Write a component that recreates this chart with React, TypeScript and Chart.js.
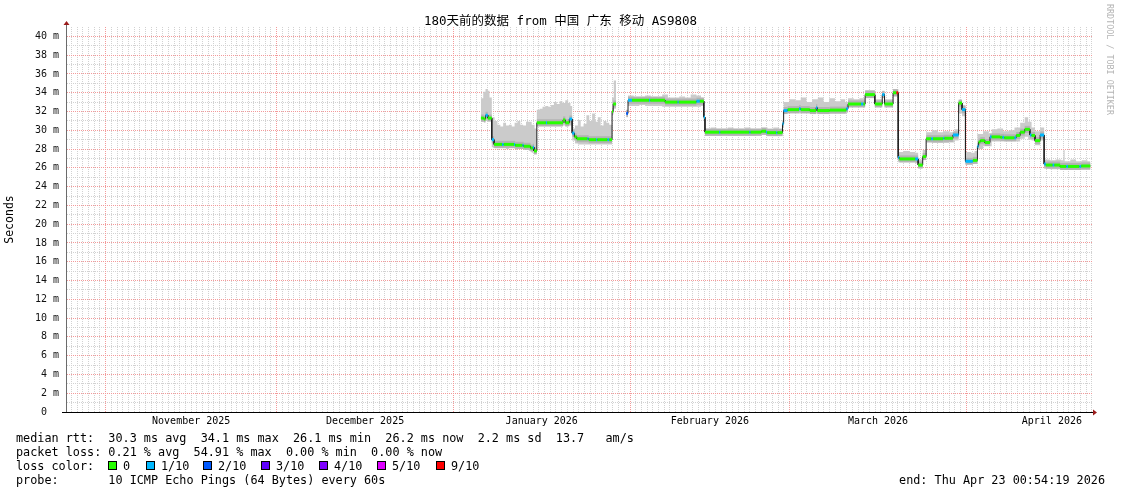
import { useEffect, useRef } from 'react';
import { Chart, registerables } from 'chart.js';

Chart.register(...registerables);

// ---------- axis / calendar values (x = days since Oct 25 2025 00:54:19) ----------
const xMinDay = 0;
const xMaxDay = 180;
const yMinMs = 0;
const yMaxMs = 41;
const firstMidnightDay = 0.9623;
const dayCount = 180;
const monthStartDays = [6.9623, 36.9623, 67.9623, 98.9623, 126.9623, 157.9623];
const monthLabelDays = [21.9623, 52.4623, 83.4623, 112.9623, 142.4623, 172.9623];
const monthLabels = ['November 2025', 'December 2025', 'January 2026', 'February 2026', 'March 2026', 'April 2026'];
const yTickValues = Array.from({ length: 41 }, (_, i) => i);

// ---------- median rtt (ms): each level holds from its start day until the next start ----------
const medianStart = [
  72.8, 73.3, 73.6, 74.0,
  74.7, 75.1, 76.5, 76.8, 78.6, 78.8, 80.1, 80.3, 81.5, 81.9, 82.1,
  82.6, 84.2, 84.4, 87.2, 87.6, 88.3,
  88.8, 89.2, 89.6, 91.5, 91.7, 93.0, 93.2, 95.0, 95.3, 95.8, 96.0, 96.5,
  98.3, 98.6, 99.3, 102.3, 102.5, 105.1, 107.3, 107.5, 110.6, 111.2,
  111.9, 112.1, 114.6, 114.8, 119.9, 120.1, 122.0, 122.8, 123.0, 124.6, 124.8, 125.7,
  125.9, 126.6, 128.6, 128.9, 130.5, 131.6, 131.8, 134.0, 136.9,
  137.2, 139.5, 139.9,
  140.2, 141.9, 143.2, 143.6, 145.1, 145.7,
  146.0, 146.2, 149.0, 149.5, 150.3,
  150.9, 151.8, 152.1, 153.9, 154.1, 155.6, 156.6, 157.2,
  157.8, 159.1,
  159.9, 160.1, 160.4, 161.2, 162.1, 162.4, 163.9, 164.3, 164.6, 166.4, 166.7, 167.4, 168.2, 169.1, 169.4, 170.0, 170.9,
  171.6, 171.9, 173.1, 173.4, 174.4, 175.5, 175.8, 177.8, 178.1, 179.7,
];
const medianLevel: (number | null)[] = [
  31.3, 31.2, 31.6, 31.3,
  29.0, 28.5, 28.5, 28.5, 28.5, 28.4, 28.4, 28.3, 28.1, 28.2, 27.8,
  30.8, 30.8, 30.8, 31.1, 30.8, 31.2,
  29.7, 29.3, 29.1, 29.1, 29.0, 29.0, 29.0, 29.0, 29.0, 32.0, 32.8, null,
  31.8, 33.2, 33.2, 33.2, 33.2, 33.0, 33.0, 33.0, 33.1, 33.1,
  31.4, 29.8, 29.8, 29.8, 29.8, 29.8, 29.9, 29.8, 29.75, 29.75, 29.75, 30.7,
  32.1, 32.2, 32.3, 32.2, 32.1, 32.4, 32.1, 32.15, 32.3,
  32.8, 32.8, 32.8,
  33.8, 32.8, 33.8, 32.8, 34.0, 34.0,
  27.1, 26.95, 26.95, 26.3, 27.2,
  29.1, 29.1, 29.1, 29.15, 29.15, 29.5, 32.9, 32.2,
  26.7, 26.8,
  28.3, 28.75, 28.9, 28.7, 29.3, 29.3, 29.25, 29.25, 29.2, 29.2, 29.45, 29.8, 30.1, 29.5, 29.45, 28.9, 29.5,
  26.4, 26.3, 26.3, 26.3, 26.15, 26.15, 26.15, 26.15, 26.2, null,
];
// lost pings out of 10 for each median level
const medianLoss = [
  0, 0, 1, 0,
  1, 0, 1, 0, 1, 0, 1, 0, 0, 1, 0,
  0, 1, 0, 0, 0, 1,
  1, 0, 0, 1, 0, 1, 0, 1, 0, 0, 0, 0,
  2, 1, 0, 1, 0, 0, 1, 0, 1, 0,
  1, 0, 1, 0, 1, 0, 0, 1, 0, 1, 0, 1,
  1, 0, 1, 0, 0, 1, 0, 0, 1,
  0, 1, 0,
  0, 0, 1, 0, 0, 6,
  1, 0, 1, 0, 0,
  0, 1, 0, 1, 0, 1, 0, 1,
  1, 0,
  1, 0, 0, 0, 1, 0, 0, 1, 0, 1, 0, 0, 0, 1, 0, 0, 1,
  1, 0, 1, 0, 0, 1, 0, 1, 0, 0,
];

// ---------- smoke (min / max of the pings, ms) ----------
const smokeStart = [
  72.8, 73.2, 73.6, 74.0, 74.3,
  74.7, 75.2, 75.7, 76.2, 76.7, 77.2, 77.7, 78.2, 78.7, 79.2, 79.7, 80.2, 80.7, 81.2, 81.7, 82.2,
  82.6, 83.1, 83.6, 84.1, 84.6, 85.1, 85.6, 86.1, 86.6, 87.1, 87.6, 88.1, 88.5,
  88.8, 89.3, 89.8, 90.3, 90.8, 91.3, 91.8, 92.3, 92.8, 93.3, 93.8, 94.3, 94.8, 95.3, 95.8, 96.1, 96.5,
  98.3, 98.6, 99.6, 100.6, 101.6, 102.6, 103.6, 104.6, 105.6, 106.6, 107.6, 108.6, 109.6, 110.6, 111.4,
  111.9, 112.1, 113.1, 114.1, 115.1, 116.1, 117.1, 118.1, 119.1, 120.1, 121.1, 122.1, 123.1, 124.1, 125.1, 125.7,
  125.9, 126.9, 127.9, 128.9, 129.9, 130.9, 131.9, 132.9, 133.9, 134.9, 135.9, 136.7,
  137.2, 138.2, 139.2,
  140.2, 141.9, 143.2, 143.6, 145.1,
  146.0, 147.0, 148.0, 149.0, 149.5, 150.3,
  150.9, 151.9, 152.9, 153.9, 154.9, 155.9, 156.6, 157.2,
  157.8, 158.8, 159.4,
  159.9, 160.9, 161.9, 162.4, 163.4, 164.4, 165.4, 166.4, 167.4, 168.2, 168.8, 169.4, 170.0, 170.9,
  171.6, 172.6, 173.6, 174.6, 175.0, 175.2, 176.2, 177.2, 178.2, 179.2, 179.7,
];
const smokeHigh: (number | null)[] = [
  33.4, 34.1, 34.4, 34.2, 33.5,
  31.4, 31.0, 30.6, 30.4, 30.8, 30.5, 30.6, 30.4, 30.8, 31.0, 30.6, 30.5, 30.9, 30.9, 30.6, 30.2,
  32.2, 32.3, 32.5, 32.6, 32.5, 32.7, 33.0, 32.8, 33.1, 32.9, 33.2, 32.9, 32.6,
  30.2, 30.5, 31.1, 30.4, 30.7, 31.6, 31.0, 31.8, 30.9, 31.4, 30.5, 31.0, 30.8, 30.6, 33.5, 35.3, null,
  32.2, 33.7, 33.6, 33.6, 33.7, 33.6, 33.6, 33.8, 33.5, 33.5, 33.6, 33.5, 33.8, 33.7, 33.5,
  31.7, 30.2, 30.3, 30.2, 30.2, 30.3, 30.2, 30.2, 30.3, 30.2, 30.2, 30.3, 30.2, 30.3, 30.2, 31.0,
  33.0, 33.3, 33.2, 33.5, 33.0, 33.3, 33.5, 33.0, 33.4, 33.1, 33.3, 33.0,
  33.4, 33.3, 33.4,
  34.3, 33.3, 34.2, 33.3, 34.4,
  27.7, 27.8, 27.7, 27.6, 26.9, 27.9,
  29.8, 30.0, 29.8, 29.9, 29.8, 30.1, 33.2, 32.7,
  27.7, 27.6, 27.8,
  29.6, 29.9, 29.6, 30.1, 30.2, 29.9, 30.0, 30.3, 30.8, 31.4, 30.9, 30.3, 29.9, 30.3,
  26.9, 26.8, 26.9, 26.8, 27.9, 26.7, 26.9, 26.7, 26.8, 26.7, null,
];
const smokeLow: (number | null)[] = [
  30.9, 30.9, 31.0, 31.0, 31.0,
  28.2, 28.1, 28.1, 28.1, 28.1, 28.0, 28.1, 28.1, 28.0, 28.0, 28.0, 28.0, 27.9, 27.8, 27.6, 27.5,
  30.4, 30.4, 30.4, 30.4, 30.4, 30.4, 30.4, 30.4, 30.4, 30.5, 30.4, 30.5, 30.5,
  28.9, 28.6, 28.5, 28.5, 28.5, 28.5, 28.5, 28.5, 28.5, 28.5, 28.5, 28.5, 28.5, 28.5, 31.8, 32.3, null,
  31.4, 32.6, 32.6, 32.7, 32.6, 32.6, 32.6, 32.5, 32.5, 32.5, 32.5, 32.5, 32.5, 32.5, 32.6,
  31.1, 29.4, 29.4, 29.4, 29.45, 29.4, 29.4, 29.4, 29.4, 29.4, 29.45, 29.5, 29.4, 29.4, 29.4, 30.3,
  31.8, 31.8, 31.8, 31.8, 31.8, 31.8, 31.8, 31.8, 31.8, 31.8, 31.8, 31.9,
  32.5, 32.5, 32.5,
  33.5, 32.5, 33.5, 32.5, 33.6,
  26.6, 26.6, 26.6, 26.5, 26.0, 26.9,
  28.7, 28.65, 28.65, 28.65, 28.7, 28.9, 31.8, 31.5,
  26.4, 26.4, 26.5,
  28.0, 28.3, 28.3, 28.8, 28.8, 28.8, 28.8, 28.8, 29.1, 29.3, 29.0, 28.9, 28.4, 28.9,
  25.9, 25.85, 25.85, 25.8, 25.8, 25.8, 25.8, 25.8, 25.8, 25.8, null,
];

// ---------- legend ----------
const lossLabels = ['0', '1/10', '2/10', '3/10', '4/10', '5/10', '9/10'];
const lossColors = ['#26ff00', '#00b8ff', '#0059ff', '#5e00ff', '#7e00ff', '#dd00ff', '#ff0000'];
const lossSwatchX = [108, 146, 203, 261, 319, 377, 436];

const statRows = [
  'median rtt:  30.3 ms avg  34.1 ms max  26.1 ms min  26.2 ms now  2.2 ms sd  13.7   am/s',
  'packet loss: 0.21 % avg  54.91 % max  0.00 % min  0.00 % now',
];
const probeText = 'probe:       10 ICMP Echo Pings (64 Bytes) every 60s';
const endText = 'end: Thu Apr 23 00:54:19 2026';
const titleText = '180天前的数据 from 中国 广东 移动 AS9808';

const MONO = "'DejaVu Sans Mono', monospace";

function lossColorFor(lost: number) {
  if (lost >= 6) return lossColors[6];
  return lossColors[Math.max(0, Math.min(5, lost))];
}

function stepPoints(starts: number[], levels: (number | null)[]) {
  const pts: { x: number; y: number | null }[] = [];
  for (let i = 0; i < starts.length; i++) {
    const v = levels[i];
    if (v === null || i === starts.length - 1) {
      pts.push({ x: starts[i], y: null });
      continue;
    }
    pts.push({ x: starts[i], y: v });
    pts.push({ x: starts[i + 1], y: v });
  }
  return pts;
}

function stepAttr(starts: number[], levels: (number | null)[], attr: number[]) {
  const out: number[] = [];
  for (let i = 0; i < starts.length; i++) {
    const v = levels[i];
    if (v === null || i === starts.length - 1) {
      out.push(attr[i]);
      continue;
    }
    out.push(attr[i], attr[i]);
  }
  return out;
}

const TRANSPARENT = 'rgba(0,0,0,0)';
const MINOR = '#d2d2d2';
const MAJOR = '#f39a9a';

const axisDecor = {
  id: 'axisDecor',
  afterDraw(chart: any) {
    const { ctx, chartArea } = chart;
    const { left, right, top, bottom } = chartArea;
    ctx.save();
    ctx.lineWidth = 1;
    ctx.strokeStyle = '#6b6b6b';
    ctx.beginPath();
    ctx.moveTo(Math.round(left) + 0.5, bottom);
    ctx.lineTo(Math.round(left) + 0.5, top - 4);
    ctx.stroke();
    ctx.strokeStyle = '#000';
    ctx.beginPath();
    ctx.moveTo(left - 4, Math.round(bottom) + 0.5);
    ctx.lineTo(right + 2, Math.round(bottom) + 0.5);
    ctx.stroke();
    ctx.fillStyle = '#9b1c1c';
    const ax = Math.round(left) + 0.5;
    ctx.beginPath();
    ctx.moveTo(ax - 3, top - 2);
    ctx.lineTo(ax + 3, top - 2);
    ctx.lineTo(ax, top - 6);
    ctx.closePath();
    ctx.fill();
    const ay = Math.round(bottom) + 0.5;
    ctx.beginPath();
    ctx.moveTo(right + 1, ay - 3);
    ctx.lineTo(right + 1, ay + 3);
    ctx.lineTo(right + 5, ay);
    ctx.closePath();
    ctx.fill();
    ctx.restore();
  },
};

export default function App() {
  const canvasRef = useRef<HTMLCanvasElement>(null);

  useEffect(() => {
    const canvas = canvasRef.current;
    if (!canvas) return;
    Chart.defaults.font.family = MONO;

    const medPts = () => stepPoints(medianStart, medianLevel).map((p) => ({ ...p }));
    const medLossPts = stepAttr(medianStart, medianLevel, medianLoss);
    const hiPts = stepPoints(smokeStart, smokeHigh);
    const loPts = stepPoints(smokeStart, smokeLow);

    const sameLevel = (c: any) => c.p0 && c.p1 && c.p0.parsed && c.p1.parsed && c.p0.parsed.y === c.p1.parsed.y;

    const chart = new Chart(canvas, {
      type: 'line',
      data: {
        datasets: [
          {
            label: 'median (loss colour)',
            data: medPts(),
            borderColor: '#26ff00',
            borderWidth: 3,
            pointRadius: 0,
            borderCapStyle: 'butt',
            fill: false,
            order: 1,
            segment: {
              borderColor: (c: any) => (sameLevel(c) ? lossColorFor(medLossPts[c.p0DataIndex]) : TRANSPARENT),
            },
          },
          {
            label: 'median',
            data: medPts(),
            borderColor: '#202020',
            borderWidth: 1,
            pointRadius: 0,
            fill: false,
            order: 2,
          },
          {
            label: 'smoke core',
            data: medPts(),
            borderColor: '#b3b3b3',
            borderWidth: 7,
            pointRadius: 0,
            borderCapStyle: 'butt',
            fill: false,
            order: 3,
            segment: {
              borderColor: (c: any) => (sameLevel(c) ? '#b3b3b3' : TRANSPARENT),
            },
          },
          {
            label: 'smoke max',
            data: hiPts,
            borderColor: TRANSPARENT,
            borderWidth: 0,
            pointRadius: 0,
            backgroundColor: '#cbcbcb',
            fill: '+1',
            order: 4,
          },
          {
            label: 'smoke min',
            data: loPts,
            borderColor: TRANSPARENT,
            borderWidth: 0,
            pointRadius: 0,
            fill: false,
            order: 5,
          },
        ],
      } as any,
      options: {
        animation: false,
        responsive: false,
        devicePixelRatio: 1,
        events: [],
        layout: { padding: { top: 27, right: 29, bottom: 62, left: 0 } },
        plugins: {
          legend: { display: false },
          tooltip: { enabled: false },
          title: { display: false },
        },
        scales: {
          x: {
            type: 'linear',
            position: 'bottom',
            min: xMinDay,
            max: xMaxDay,
            weight: 0,
            afterBuildTicks: (s: any) => {
              s.ticks = monthLabelDays.map((v) => ({ value: v }));
            },
            afterFit: (s: any) => {
              s.height = 20;
            },
            ticks: {
              autoSkip: false,
              maxRotation: 0,
              minRotation: 0,
              padding: 3,
              color: '#000',
              font: { size: 10, family: MONO },
              callback: (_v: any, i: number) => monthLabels[i],
            },
            grid: { display: false, drawTicks: false },
            border: { display: true, color: '#000', width: 1 },
          },
          xDay: {
            type: 'linear',
            position: 'bottom',
            min: xMinDay,
            max: xMaxDay,
            weight: 1,
            afterBuildTicks: (s: any) => {
              const t: { value: number }[] = [];
              for (let k = 0; k < dayCount; k++) {
                const v = firstMidnightDay + k;
                if (monthStartDays.some((m) => Math.abs(m - v) < 0.01)) continue;
                t.push({ value: v });
              }
              s.ticks = t;
            },
            afterFit: (s: any) => {
              s.height = 0;
            },
            ticks: { display: false, autoSkip: false },
            grid: { display: true, drawTicks: false, color: MINOR, lineWidth: 1, z: -3, borderDash: [1, 1] },
            border: { display: false, dash: [1, 1] },
          },
          xMonth: {
            type: 'linear',
            position: 'bottom',
            min: xMinDay,
            max: xMaxDay,
            weight: 2,
            afterBuildTicks: (s: any) => {
              s.ticks = monthStartDays.map((v) => ({ value: v }));
            },
            afterFit: (s: any) => {
              s.height = 0;
            },
            ticks: { display: false, autoSkip: false },
            grid: { display: true, drawTicks: false, color: MAJOR, lineWidth: 1, z: -1, borderDash: [1, 1] },
            border: { display: false, dash: [1, 1] },
          },
          y: {
            type: 'linear',
            position: 'left',
            min: yMinMs,
            max: yMaxMs,
            afterBuildTicks: (s: any) => {
              s.ticks = yTickValues.map((v) => ({ value: v }));
            },
            afterFit: (s: any) => {
              s.width = 66;
            },
            ticks: {
              autoSkip: false,
              padding: 7,
              color: '#111',
              font: { size: 10, family: MONO },
              callback: (v: any) => {
                const n = Number(v);
                if (n % 2 !== 0) return '';
                return n === 0 ? '0  ' : `${n} m`;
              },
            },
            grid: {
              drawTicks: false,
              lineWidth: 1,
              z: -2,
              borderDash: [1, 1],
              color: (c: any) => {
                const v = c.tick ? c.tick.value : 0;
                if (v === 0) return TRANSPARENT;
                return v % 2 === 0 ? MAJOR : MINOR;
              },
            },
            border: { display: true, color: '#6b6b6b', width: 1, dash: [1, 1] },
            title: {
              display: true,
              text: 'Seconds',
              color: '#000',
              font: { size: 11.5, family: MONO },
              padding: { top: 3, bottom: 0 },
            },
          },
        },
      } as any,
      plugins: [axisDecor],
    });
    return () => chart.destroy();
  }, []);

  const textRow = (top: number): any => ({
    position: 'absolute',
    left: 16,
    top,
    font: `11.8px ${MONO}`,
    lineHeight: '14px',
    whiteSpace: 'pre',
    color: '#000',
  });

  return (
    <div style={{ position: 'fixed', left: 0, top: 0, width: 1121, height: 494, background: '#fff', overflow: 'hidden' }}>
      <canvas
        ref={canvasRef}
        width={1121}
        height={494}
        style={{ position: 'absolute', left: 0, top: 0, width: 1121, height: 494 }}
      />
      <div
        style={{
          position: 'absolute',
          left: 0,
          top: 13,
          width: 1121,
          textAlign: 'center',
          font: `12.5px 'DejaVu Sans Mono', 'Noto Sans CJK SC', monospace`,
          lineHeight: '16px',
          whiteSpace: 'pre',
          color: '#000',
        }}
      >
        {titleText}
      </div>
      <div
        style={{
          position: 'absolute',
          left: 1105,
          top: 4,
          writingMode: 'vertical-rl',
          font: `8.4px ${MONO}`,
          lineHeight: '10px',
          color: '#b4b4b4',
          whiteSpace: 'pre',
        }}
      >
        RRDTOOL / TOBI OETIKER
      </div>
      <div style={textRow(431)}>{statRows[0]}</div>
      <div style={textRow(445)}>{statRows[1]}</div>
      <div style={textRow(459)}>loss color:</div>
      {lossLabels.map((lab, i) => (
        <div key={lab}>
          <span
            style={{
              position: 'absolute',
              left: lossSwatchX[i],
              top: 461,
              width: 7,
              height: 7,
              background: lossColors[i],
              border: '1px solid #000',
            }}
          />
          <span style={{ ...textRow(459), left: lossSwatchX[i] + 15 }}>{lab}</span>
        </div>
      ))}
      <div style={textRow(473)}>{probeText}</div>
      <div style={{ ...textRow(473), left: 'auto', right: 16 }}>{endText}</div>
    </div>
  );
}
